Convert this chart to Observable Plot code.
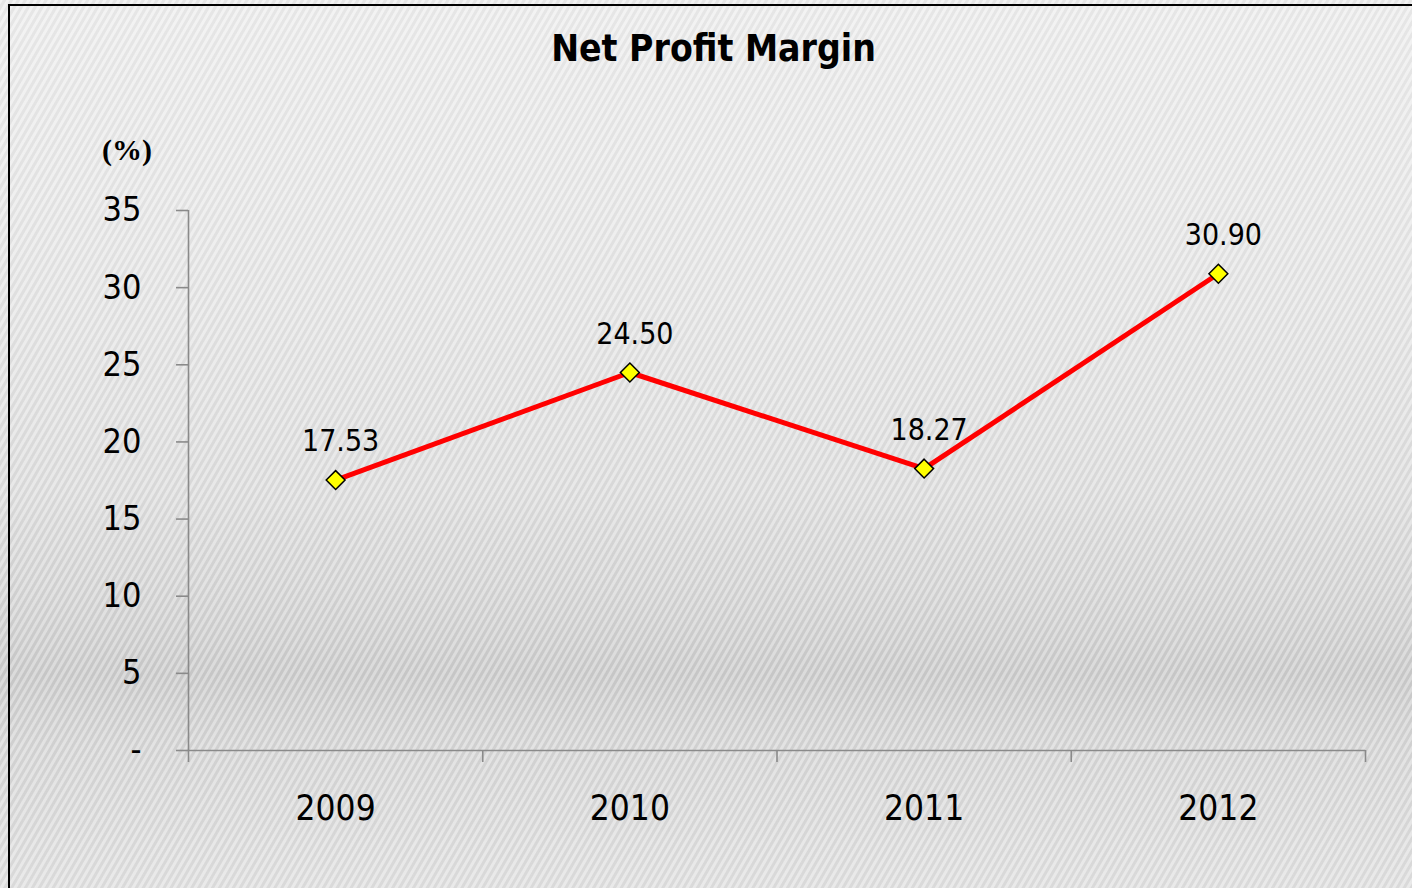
<!DOCTYPE html>
<html><head><meta charset="utf-8">
<script src="https://cdn.jsdelivr.net/npm/d3@7"></script>
<script src="https://cdn.jsdelivr.net/npm/@observablehq/plot@0.6"></script>
<style>
html,body{margin:0;padding:0;}
body{width:1412px;height:888px;overflow:hidden;position:relative;
 font-family:"DejaVu Sans Condensed","DejaVu Sans",sans-serif;
 background:
  repeating-linear-gradient(120deg, rgba(255,255,255,0.28) 0px, rgba(255,255,255,0.28) 2px, rgba(0,0,0,0.035) 3px, rgba(0,0,0,0.035) 5px, rgba(255,255,255,0.28) 6px),
  linear-gradient(to bottom, #eeeeee 0%, #e8e8e8 30%, #e0e0e0 55%, #d6d6d6 68%, #cdcdcd 76%, #d8d8d8 84%, #e2e2e2 100%);
}
#frame{position:absolute;left:8px;top:4px;width:1600px;height:1000px;border:2px solid #000;}
#title{position:absolute;left:0;width:1427px;top:28px;text-align:center;font-weight:bold;font-size:37px;line-height:42px;color:#000;}
#unit{position:absolute;left:102px;top:133px;font-family:"Liberation Serif",serif;font-weight:bold;font-size:30px;line-height:34px;color:#000;}
#chart{position:absolute;left:0;top:0;}
</style>
</head><body>
<div id="frame"></div>
<div id="title">Net Profit Margin</div>
<div id="unit">(%)</div>
<div id="chart"></div>
<script>
const years = [2009, 2010, 2011, 2012];
const margins = [17.53, 24.50, 18.27, 30.90];
const yTicks = [0, 5, 10, 15, 20, 25, 30, 35];

const data = years.map((year, i) => ({year, value: margins[i]}));
const bounds = [...years.map(y => y - 0.5), years[years.length - 1] + 0.5];

const chart = Plot.plot({
  width: 1412, height: 888,
  marginLeft: 188, marginRight: 47, marginTop: 210, marginBottom: 138,
  style: {background: "transparent", overflow: "visible", fontFamily: '"DejaVu Sans Condensed","DejaVu Sans",sans-serif', color: "#000"},
  x: {type: "linear", domain: [bounds[0], bounds[bounds.length - 1]]},
  y: {domain: [0, 35]},
  marks: [
    Plot.ruleX([bounds[0]], {stroke: "#8a8a8a", strokeWidth: 1.6}),
    Plot.ruleY([0], {stroke: "#8a8a8a", strokeWidth: 1.6}),
    Plot.axisY({ticks: yTicks, tickSize: 12, tickPadding: 35, tickFormat: d => d === 0 ? "-" : String(d),
      fontSize: 34, stroke: "#8a8a8a", strokeWidth: 1.6, strokeOpacity: 1, fill: "#000", label: null}),
    Plot.axisX({ticks: bounds, tickSize: 12, tickFormat: () => "", stroke: "#8a8a8a", strokeWidth: 1.6, strokeOpacity: 1, label: null}),
    Plot.axisX({ticks: years, tickSize: 0, tickPadding: 45, tickFormat: d => String(d), fontSize: 35, fill: "#000", label: null}),
    Plot.line(data, {x: "year", y: "value", stroke: "#ff0000", strokeWidth: 5}),
    Plot.dot(data, {x: "year", y: "value", symbol: "diamond2", r: 8.5, fill: "#ffff00", stroke: "#000", strokeWidth: 1.5}),
    Plot.text(data, {x: "year", y: "value", text: d => d.value.toFixed(2), dx: 5, dy: -29, lineAnchor: "bottom", fontSize: 30, fill: "#000"})
  ]
});
document.getElementById("chart").appendChild(chart);
</script>
</body></html>
